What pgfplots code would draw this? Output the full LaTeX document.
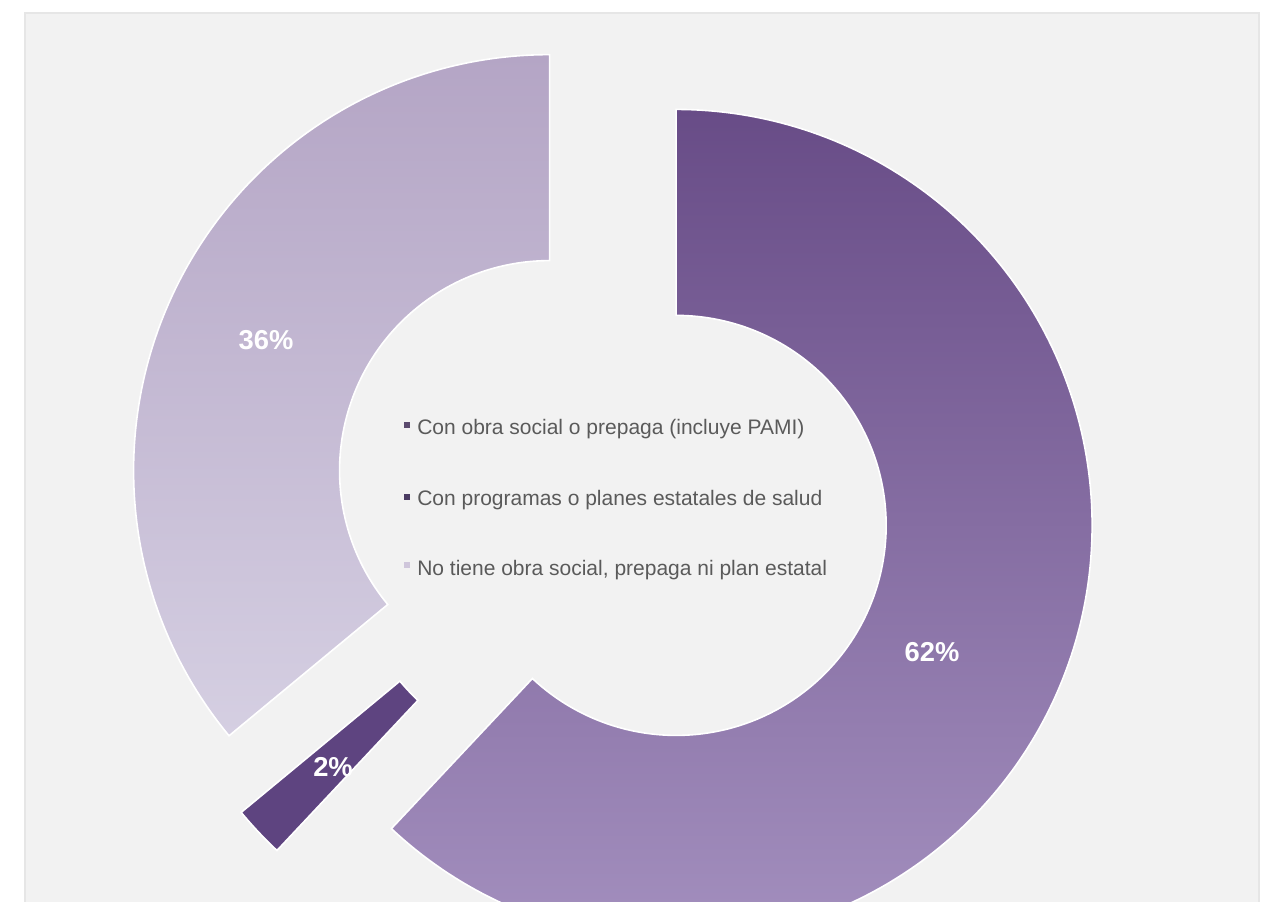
\documentclass[border=0pt]{standalone}
\usepackage{pgfplots}
\pgfplotsset{compat=1.18}
\usepackage{fontspec}
\setmainfont{Liberation Sans}
\definecolor{panel}{HTML}{F2F2F2}
\definecolor{panelline}{HTML}{E6E6E6}
\definecolor{legtext}{HTML}{5A5A5A}
\definecolor{aTop}{HTML}{684C87}
\definecolor{aBot}{HTML}{A38FBE}
\definecolor{bTop}{HTML}{5E4480}
\definecolor{bBot}{HTML}{5E4480}
\definecolor{cTop}{HTML}{B4A5C5}
\definecolor{cBot}{HTML}{D5CFE2}
\definecolor{legA}{HTML}{5B4A6E}
\definecolor{legB}{HTML}{4B3B62}
\definecolor{legC}{HTML}{CFC6DB}
% #1 cumulative share before, #2 share (%), #3 top colour, #4 bottom colour, #5,#6 label position
\newcommand{\donutslice}[6]{%
  \pgfmathsetmacro{\sa}{90-3.6*#1}%
  \pgfmathsetmacro{\sb}{90-3.6*(#1+#2)}%
  \pgfmathsetmacro{\sm}{(\sa+\sb)/2}%
  \pgfmathsetmacro{\ax}{612+69*cos(\sm)}%
  \pgfmathsetmacro{\ay}{401+69*sin(\sm)}%
  \addplot[draw=white, line width=1.2pt, top color=#3, bottom color=#4,
     domain=0:2, samples=401, variable=\t]
   ({\ax+ifthenelse(\t<=1,416,210)*cos(ifthenelse(\t<=1,\sa+\t*(\sb-\sa),\sb-max(0,\t-1.005)/0.995*(\sb-\sa)))},
    {\ay+ifthenelse(\t<=1,416,210)*sin(ifthenelse(\t<=1,\sa+\t*(\sb-\sa),\sb-max(0,\t-1.005)/0.995*(\sb-\sa)))}) -- cycle;
  \node[font=\bfseries\fontsize{20.5}{24}\selectfont, text=white] at (axis cs:#5,#6) {#2\%};
}
\begin{document}
\begin{tikzpicture}
\useasboundingbox (0,0) rectangle (963.75pt,675.75pt);
\begin{axis}[
  at={(0,0)}, anchor=south west,
  scale only axis, width=963.75pt, height=675.75pt,
  xmin=0, xmax=1285, ymin=0, ymax=901,
  hide axis, clip=true,
]
\addplot[fill=white, draw=none] coordinates {(0,0) (1285,0) (1285,901) (0,901)} -- cycle;
\addplot[fill=panel, draw=panelline, line width=0.8pt] coordinates {(25,-5) (1259,-5) (1259,888) (25,888)} -- cycle;
% data: 62, 2, 36 (percent)
\donutslice{0}{62}{aTop}{aBot}{932}{249}
\donutslice{62}{2}{bTop}{bBot}{333}{134}
\donutslice{64}{36}{cTop}{cBot}{266}{561}
% legend in the hole
\node[fill=legA, minimum size=4.5pt, inner sep=0pt] at (axis cs:407,476) {};
\node[fill=legB, minimum size=4.5pt, inner sep=0pt] at (axis cs:407,404) {};
\node[fill=legC, minimum size=4.5pt, inner sep=0pt] at (axis cs:407,336) {};
\node[anchor=base west, inner sep=0pt, text=legtext, font=\fontsize{15.75}{18}\selectfont] at (axis cs:417,466) {Con obra social o prepaga (incluye PAMI)};
\node[anchor=base west, inner sep=0pt, text=legtext, font=\fontsize{15.75}{18}\selectfont] at (axis cs:417,396) {Con programas o planes estatales de salud};
\node[anchor=base west, inner sep=0pt, text=legtext, font=\fontsize{15.75}{18}\selectfont] at (axis cs:417,326) {No tiene obra social, prepaga ni plan estatal};
\end{axis}
\end{tikzpicture}
\end{document}
